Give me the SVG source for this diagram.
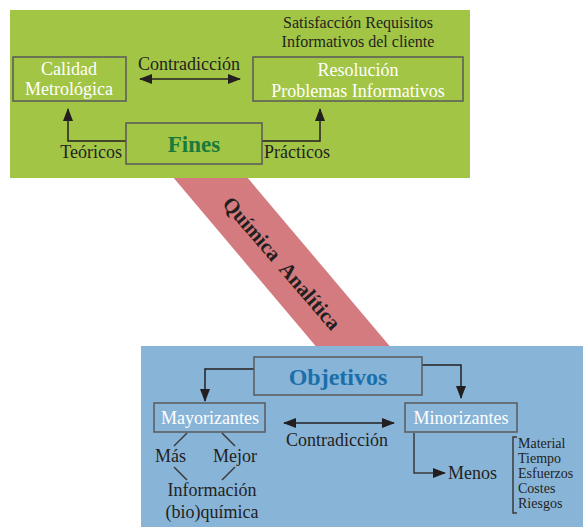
<svg xmlns="http://www.w3.org/2000/svg" width="583" height="527" viewBox="0 0 583 527">
<defs>
<style>
text{font-family:"Liberation Serif","Times New Roman",serif;fill:#231f20}
.w{fill:#fff}
.box{fill:none;stroke:#58595b;stroke-width:1.5}
.ln{fill:none;stroke:#231f20;stroke-width:1.5}
.lnb{fill:none;stroke:#3a3a3a;stroke-width:1.5}
.m{text-anchor:middle}
.li{font-size:14px}
</style>
<marker id="ah" viewBox="0 0 13 10" refX="12" refY="5" markerWidth="13" markerHeight="10" markerUnits="userSpaceOnUse" orient="auto-start-reverse">
<path d="M0,0 L13,5 L0,10 Z" fill="#231f20"/>
</marker>
</defs>
<rect width="583" height="527" fill="#fff"/>
<g id="band">
<polygon points="167,170 241,170 393,350 319,350" fill="#d37b7f"/>
<text transform="translate(282,263) rotate(49.2)" class="m" dy="0.35em" font-size="21" font-weight="bold" xml:space="preserve">Química  Analítica</text>
</g>
<g id="fines-panel">
<rect x="10" y="10" width="460" height="168" fill="#a2c545"/>
</g>
<g id="objetivos-panel">
<rect x="141" y="346" width="442" height="181" fill="#88b4d8"/>
</g>
<g id="connectors">
<line class="ln" x1="140" y1="79" x2="240" y2="79" marker-start="url(#ah)" marker-end="url(#ah)"/>
<polyline class="ln" points="126,141 68,141 68,109" marker-end="url(#ah)"/>
<polyline class="ln" points="262,141 320,141 320,109" marker-end="url(#ah)"/>
<polyline class="ln" points="254,369 205,369 205,401" marker-end="url(#ah)"/>
<polyline class="ln" points="422,365 461,365 461,398" marker-end="url(#ah)"/>
<line class="ln" x1="284" y1="423" x2="394" y2="423" marker-start="url(#ah)" marker-end="url(#ah)"/>
<polyline class="lnb" points="414,433 414,473 445,473" marker-end="url(#ah)"/>
<line class="lnb" x1="187" y1="433" x2="174" y2="446"/>
<line class="lnb" x1="222" y1="433" x2="235" y2="446"/>
<line class="lnb" x1="174" y1="467" x2="187" y2="480"/>
<line class="lnb" x1="235" y1="467" x2="222" y2="480"/>
<polyline class="lnb" points="517,437 513,437 513,513 517,513"/>
</g>
<g id="satisfaccion">
<text class="m" x="358" y="28" font-size="16">Satisfacción Requisitos</text>
<text class="m" x="358" y="47" font-size="16">Informativos del cliente</text>
</g>
<g id="calidad">
<rect class="box" x="13" y="57" width="113" height="44"/>
<text class="m w" x="69" y="75" font-size="18">Calidad</text>
<text class="m w" x="69" y="95" font-size="18">Metrológica</text>
</g>
<g id="contradiccion1">
<text class="m" x="189" y="70" font-size="18">Contradicción</text>
</g>
<g id="resolucion">
<rect class="box" x="253" y="57" width="210" height="44"/>
<text class="m w" x="358" y="76" font-size="18">Resolución</text>
<text class="m w" x="358" y="97" font-size="18">Problemas Informativos</text>
</g>
<g id="fines">
<rect class="box" x="126" y="123" width="136" height="41"/>
<text class="m" x="194" y="152" font-size="23" font-weight="bold" style="fill:#1a7a3c">Fines</text>
</g>
<g id="teoricos"><text x="122" y="158" font-size="18" text-anchor="end">Teóricos</text></g>
<g id="practicos"><text x="264" y="158" font-size="18">Prácticos</text></g>
<g id="objetivos">
<rect class="box" x="254" y="357" width="168" height="38"/>
<text class="m" x="338" y="385" font-size="24" font-weight="bold" style="fill:#1a6fab">Objetivos</text>
</g>
<g id="mayorizantes">
<rect class="box" x="154" y="403" width="111" height="29"/>
<text class="m w" x="210" y="424" font-size="18">Mayorizantes</text>
</g>
<g id="minorizantes">
<rect class="box" x="405" y="403" width="112" height="29"/>
<text class="m w" x="461" y="424" font-size="18">Minorizantes</text>
</g>
<g id="contradiccion2"><text class="m" x="337" y="446" font-size="18">Contradicción</text></g>
<g id="mas"><text x="155" y="462" font-size="18">Más</text></g>
<g id="mejor"><text x="213" y="462" font-size="18">Mejor</text></g>
<g id="informacion">
<text class="m" x="212" y="496" font-size="18">Información</text>
<text class="m" x="212" y="518" font-size="18">(bio)química</text>
</g>
<g id="menos"><text x="448" y="479" font-size="18">Menos</text></g>
<g id="lista">
<text class="li" x="518" y="448">Material</text>
<text class="li" x="518" y="463">Tiempo</text>
<text class="li" x="518" y="478">Esfuerzos</text>
<text class="li" x="518" y="493">Costes</text>
<text class="li" x="518" y="508">Riesgos</text>
</g>
</svg>
